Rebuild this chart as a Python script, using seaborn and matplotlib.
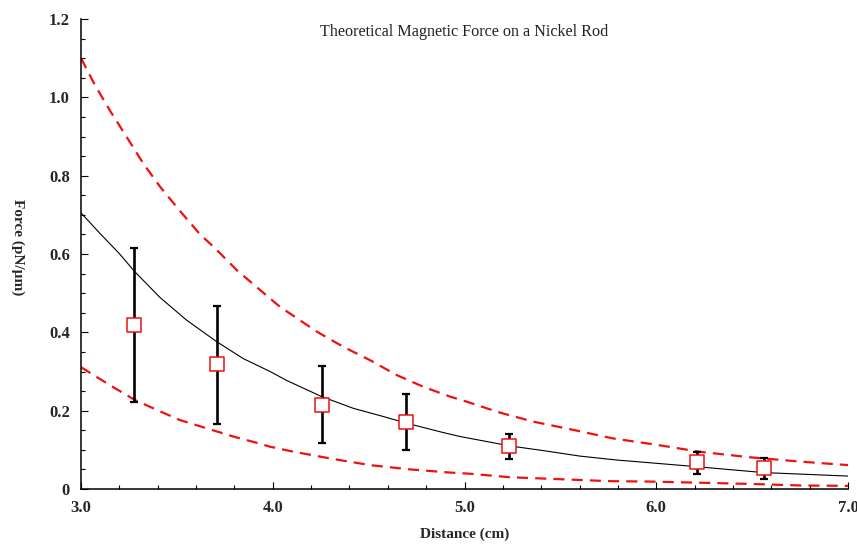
import matplotlib
matplotlib.use("Agg")
import matplotlib.pyplot as plt
from matplotlib.ticker import MultipleLocator, FixedLocator
import seaborn as sns
import pandas as pd

# Theory curves
upper_x = [3.0, 3.073, 3.155, 3.238, 3.325, 3.412, 3.516, 3.621, 3.690, 3.812, 3.934, 4.038,
           4.090, 4.229, 4.368, 4.507, 4.646, 4.785, 4.924, 5.011, 5.185, 5.359, 5.567, 5.776,
           6.0, 6.228, 6.489, 6.75, 7.0]
upper_y = [1.100, 1.031, 0.963, 0.899, 0.831, 0.772, 0.710, 0.650, 0.619, 0.559, 0.508, 0.465,
           0.448, 0.402, 0.363, 0.329, 0.291, 0.261, 0.236, 0.223, 0.195, 0.172, 0.151, 0.129,
           0.113, 0.095, 0.081, 0.070, 0.061]

mid_x = [3.0, 3.1, 3.2, 3.278, 3.412, 3.551, 3.708, 3.846, 3.986, 4.073, 4.255, 4.420,
         4.577, 4.698, 4.890, 4.977, 5.237, 5.411, 5.602, 5.793, 5.967, 6.21, 6.558, 7.0]
mid_y = [0.705, 0.652, 0.601, 0.556, 0.489, 0.431, 0.376, 0.333, 0.300, 0.277, 0.236, 0.206,
         0.185, 0.168, 0.144, 0.134, 0.110, 0.098, 0.084, 0.074, 0.067, 0.057, 0.042, 0.033]

lower_x = [3.0, 3.151, 3.282, 3.395, 3.516, 3.655, 3.794, 3.916, 3.986, 4.090, 4.299, 4.507,
           4.716, 4.924, 5.029, 5.237, 5.498, 5.759, 5.967, 6.228, 6.489, 6.75, 7.0]
lower_y = [0.311, 0.265, 0.227, 0.202, 0.176, 0.155, 0.134, 0.118, 0.108, 0.097, 0.078, 0.061,
           0.050, 0.042, 0.039, 0.030, 0.025, 0.020, 0.019, 0.016, 0.013, 0.009, 0.008]

# Measured points
meas_x = [3.278, 3.711, 4.257, 4.694, 5.233, 6.212, 6.560]
meas_y = [0.418, 0.319, 0.214, 0.172, 0.111, 0.070, 0.054]
err_top = [0.616, 0.467, 0.313, 0.242, 0.140, 0.095, 0.078]
err_bot = [0.223, 0.167, 0.118, 0.100, 0.076, 0.038, 0.025]

x_ticks = [3.0, 4.0, 5.0, 6.0, 7.0]
x_tick_labels = ["3.0", "4.0", "5.0", "6.0", "7.0"]
y_ticks = [0, 0.2, 0.4, 0.6, 0.8, 1.0, 1.2]
y_tick_labels = ["0", "0.2", "0.4", "0.6", "0.8", "1.0", "1.2"]

title = "Theoretical Magnetic Force on a Nickel Rod"
xlabel = "Distance (cm)"
ylabel = "Force (pN/\u00b5m)"

sns.set_style("ticks")
plt.rcParams["font.family"] = ["Liberation Serif", "DejaVu Serif"]

fig = plt.figure(figsize=(8.57, 5.45), dpi=100)
ax = fig.add_axes([81/857, 56/545, (848-81)/857, (489-19)/545])

red = "#f01010"
dash = (0, (5, 3.2))
up_df = pd.DataFrame({"x": upper_x, "y": upper_y})
mid_df = pd.DataFrame({"x": mid_x, "y": mid_y})
low_df = pd.DataFrame({"x": lower_x, "y": lower_y})
sns.lineplot(data=up_df, x="x", y="y", ax=ax, color=red, lw=1.6, sort=False,
             linestyle=dash, zorder=2)
sns.lineplot(data=low_df, x="x", y="y", ax=ax, color=red, lw=1.6, sort=False,
             linestyle=dash, zorder=2)
sns.lineplot(data=mid_df, x="x", y="y", ax=ax, color="black", lw=0.8, sort=False, zorder=2)

lower_err = [m - b for m, b in zip(meas_y, err_bot)]
upper_err = [t - m for m, t in zip(meas_y, err_top)]
ax.errorbar(meas_x, meas_y, yerr=[lower_err, upper_err], fmt="none",
            ecolor="black", elinewidth=1.9, capsize=3.2, capthick=1.6, zorder=3)

pts = pd.DataFrame({"x": meas_x, "y": meas_y})
sns.scatterplot(data=pts, x="x", y="y", ax=ax, marker="s", s=105,
                facecolor="white", edgecolor=red, linewidth=1.1, zorder=4)

ax.set_xlim(3.0, 7.0)
ax.set_ylim(0, 1.2)
ax.xaxis.set_major_locator(FixedLocator(x_ticks))
ax.set_xticklabels(x_tick_labels)
ax.yaxis.set_major_locator(FixedLocator(y_ticks))
ax.set_yticklabels(y_tick_labels)
ax.xaxis.set_minor_locator(MultipleLocator(0.2))
ax.yaxis.set_minor_locator(MultipleLocator(0.05))

ax.tick_params(which="both", direction="in", color="black", width=0.8)
ax.tick_params(which="major", length=5, labelsize=12, pad=8)
ax.tick_params(which="minor", length=3)
for lab in ax.get_xticklabels() + ax.get_yticklabels():
    lab.set_fontweight("bold")

sns.despine(ax=ax)
for sp in ["left", "bottom"]:
    ax.spines[sp].set_linewidth(1.1)
    ax.spines[sp].set_color("black")

ax.set_xlabel(xlabel, fontsize=11, fontweight="bold", labelpad=8)
ax.set_ylabel(ylabel, fontsize=11, fontweight="bold", rotation=-90,
              va="center", labelpad=22)
ax.yaxis.set_label_coords(-0.082, 0.515)
ax.text(0.5, 0.972, title, transform=ax.transAxes, ha="center", va="center",
        fontsize=11.6, color="#222222")

fig.savefig("out.png", dpi=100)
